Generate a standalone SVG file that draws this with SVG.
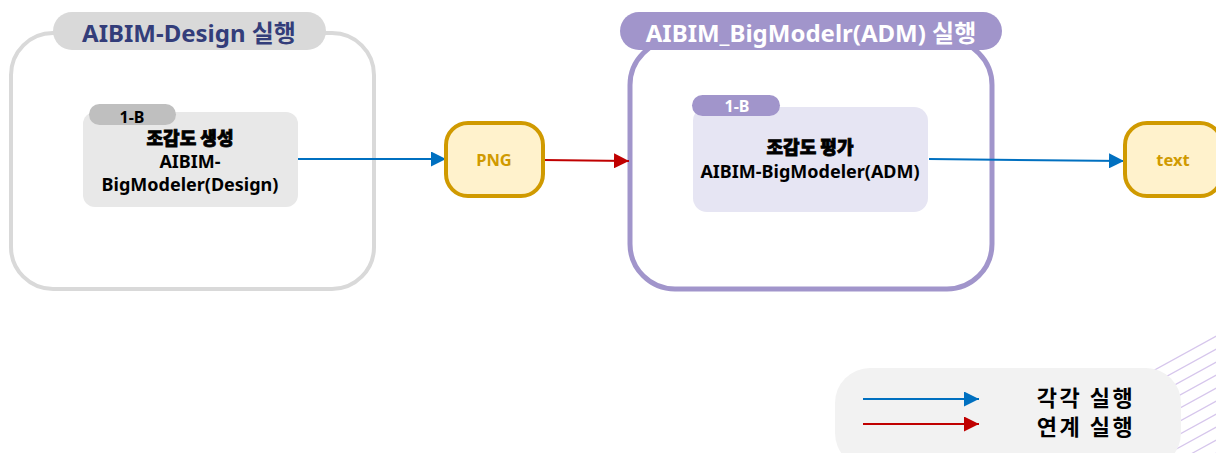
<svg xmlns="http://www.w3.org/2000/svg" width="1216" height="453" viewBox="0 0 1216 453">
<defs>
<style>
.t{font-family:"Noto Sans","Noto Sans CJK KR",sans-serif;font-weight:bold;text-anchor:middle}
.k{font-family:"Noto Sans CJK KR","Noto Sans",sans-serif;font-weight:900;text-anchor:middle;stroke:#000;stroke-width:0.8}
.l{font-family:"Noto Sans CJK KR","Noto Sans",sans-serif;font-weight:bold;text-anchor:middle}
.blue{stroke:#0070c0;stroke-width:2;fill:none}
.red{stroke:#c00000;stroke-width:2;fill:none}
.deco{stroke:#d6c6ec;stroke-width:1.2}
</style>
<marker id="ab" viewBox="0 0 10 10" refX="10" refY="5" markerWidth="7.5" markerHeight="7.5" orient="auto" markerUnits="strokeWidth"><path d="M0,0L10,5L0,10z" fill="#0070c0"/></marker>
<marker id="ar" viewBox="0 0 10 10" refX="10" refY="5" markerWidth="7.5" markerHeight="7.5" orient="auto" markerUnits="strokeWidth"><path d="M0,0L10,5L0,10z" fill="#c00000"/></marker>
<clipPath id="dc"><rect x="1100" y="320" width="116" height="133"/></clipPath>
</defs>
<rect width="1216" height="453" fill="#fff"/>
<g id="decor" clip-path="url(#dc)">
<line class="deco" x1="1100" y1="400" x2="1260" y2="312"/>
<line class="deco" x1="1100" y1="413" x2="1260" y2="325"/>
<line class="deco" x1="1100" y1="426" x2="1260" y2="338"/>
<line class="deco" x1="1100" y1="439" x2="1260" y2="351"/>
<line class="deco" x1="1100" y1="452" x2="1260" y2="364"/>
<line class="deco" x1="1100" y1="465" x2="1260" y2="377"/>
<line class="deco" x1="1100" y1="478" x2="1260" y2="390"/>
<line class="deco" x1="1100" y1="491" x2="1260" y2="403"/>
<line class="deco" x1="1100" y1="504" x2="1260" y2="416"/>
<line class="deco" x1="1100" y1="517" x2="1260" y2="429"/>
</g>
<g id="group-design">
<rect x="11" y="33" width="363" height="256" rx="42" fill="#fff" stroke="#d9d9d9" stroke-width="4"/>
<rect x="53" y="12" width="273" height="38" rx="19" fill="#d9d9d9"/>
<text class="t" x="189" y="42" font-size="24" fill="#333d7a">AIBIM-Design 실행</text>
</g>
<g id="group-adm">
<rect x="630" y="40" width="362" height="249" rx="45" fill="#fff" stroke="#a195cb" stroke-width="5"/>
<rect x="620" y="12" width="382" height="38" rx="19" fill="#a195cb"/>
<text class="t" x="811" y="42" font-size="24" fill="#fff">AIBIM_BigModelr(ADM) 실행</text>
</g>
<g id="connectors">
<line class="blue" x1="298" y1="159" x2="446" y2="159" marker-end="url(#ab)"/>
<line class="red" x1="543" y1="160" x2="629" y2="161" marker-end="url(#ar)"/>
<line class="blue" x1="929" y1="159" x2="1124" y2="161" marker-end="url(#ab)"/>
</g>
<g id="node-gen">
<rect x="83" y="112" width="215" height="95" rx="12" fill="#e8e8e8"/>
<rect x="89" y="104" width="87" height="21" rx="10.5" fill="#bfbfbf"/>
<text class="t" x="132" y="123" font-size="16" fill="#000">1-B</text>
<text class="k" x="190" y="145" font-size="18" fill="#000">조감도 생성</text>
<text class="t" x="190" y="168" font-size="18" fill="#000">AIBIM-</text>
<text class="t" x="190" y="191" font-size="18" fill="#000">BigModeler(Design)</text>
</g>
<g id="node-png">
<rect x="446" y="123" width="97" height="73" rx="22" fill="#fff2cc" stroke="#d09a00" stroke-width="4"/>
<text class="t" x="494" y="166" font-size="16.5" fill="#d09a00">PNG</text>
</g>
<g id="node-eval">
<rect x="693" y="107" width="235" height="105" rx="14" fill="#e6e5f3"/>
<rect x="692" y="95" width="88" height="21" rx="10.5" fill="#a195cb"/>
<text class="t" x="737" y="112" font-size="16" fill="#fff">1-B</text>
<text class="k" x="810" y="154" font-size="18" fill="#000">조감도 평가</text>
<text class="t" x="810" y="178" font-size="18" fill="#000">AIBIM-BigModeler(ADM)</text>
</g>
<g id="node-text">
<rect x="1125" y="123" width="97" height="73" rx="22" fill="#fff2cc" stroke="#d09a00" stroke-width="4"/>
<text class="t" x="1173" y="166" font-size="16.5" fill="#d09a00">text</text>
</g>
<g id="legend">
<rect x="835" y="368" width="346" height="100" rx="35" fill="#f2f2f2"/>
<line class="blue" x1="863" y1="399" x2="979" y2="399" marker-end="url(#ab)"/>
<line class="red" x1="863" y1="424" x2="979" y2="424" marker-end="url(#ar)"/>
<text class="l" x="1086" y="406" font-size="22" letter-spacing="2.5" fill="#000">각각 실행</text>
<text class="l" x="1086" y="435" font-size="22" letter-spacing="2.5" fill="#000">연계 실행</text>
</g>
</svg>
